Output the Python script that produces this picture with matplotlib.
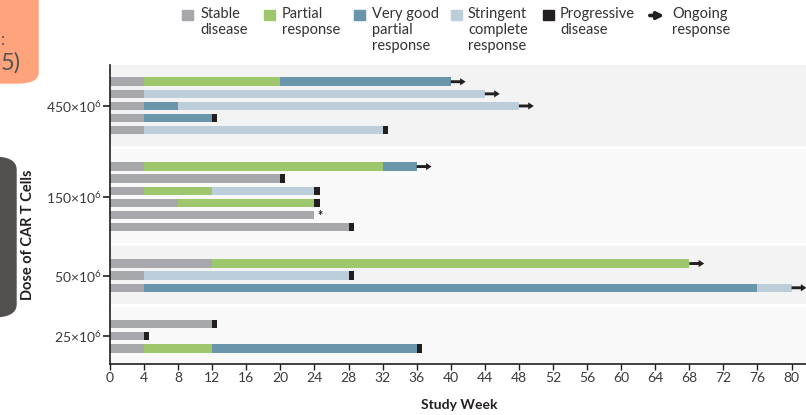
import matplotlib
matplotlib.use("Agg")
import matplotlib.pyplot as plt
from matplotlib.patches import Rectangle, FancyBboxPatch, FancyArrowPatch

plt.rcParams['font.family'] = ['Lato', 'DejaVu Sans']
plt.rcParams['mathtext.fontset'] = 'custom'
plt.rcParams['mathtext.rm'] = 'Lato'
plt.rcParams['mathtext.it'] = 'Lato:italic'
plt.rcParams['mathtext.bf'] = 'Lato:bold'

# ---- data ----
dose_labels = ['450×10$^{6}$', '150×10$^{6}$', '50×10$^{6}$', '25×10$^{6}$']
dose_counts = [5, 6, 3, 3]

# response segments per patient: (response, start week, end week)
segments = [
    # 450 x 10^6
    [('SD', 0, 4), ('PR', 4, 20), ('VGPR', 20, 40)],
    [('SD', 0, 4), ('sCR', 4, 44)],
    [('SD', 0, 4), ('VGPR', 4, 8), ('sCR', 8, 48)],
    [('SD', 0, 4), ('VGPR', 4, 12)],
    [('SD', 0, 4), ('sCR', 4, 32)],
    # 150 x 10^6
    [('SD', 0, 4), ('PR', 4, 32), ('VGPR', 32, 36)],
    [('SD', 0, 20)],
    [('SD', 0, 4), ('PR', 4, 12), ('sCR', 12, 24)],
    [('SD', 0, 8), ('PR', 8, 24)],
    [('SD', 0, 24)],
    [('SD', 0, 28)],
    # 50 x 10^6
    [('SD', 0, 12), ('PR', 12, 68)],
    [('SD', 0, 4), ('sCR', 4, 28)],
    [('SD', 0, 4), ('VGPR', 4, 76), ('sCR', 76, 80)],
    # 25 x 10^6
    [('SD', 0, 12)],
    [('SD', 0, 4)],
    [('SD', 0, 4), ('PR', 4, 12), ('VGPR', 12, 36)],
]
# what happens at the end of each bar
outcomes = ['ongoing', 'ongoing', 'ongoing', 'pd', 'pd',
            'ongoing', 'pd', 'pd', 'pd', 'star', 'pd',
            'ongoing', 'pd', 'ongoing',
            'pd', 'pd', 'pd']

week_ticks = list(range(0, 81, 4))

colors = {'SD': '#a7a8ab', 'PR': '#9dc66d', 'VGPR': '#6a96ac',
          'sCR': '#bdcedb', 'PD': '#231f20'}
legend_items = [('SD', 'Stable\ndisease'), ('PR', 'Partial\nresponse'),
                ('VGPR', 'Very good\npartial\nresponse'),
                ('sCR', 'Stringent\ncomplete\nresponse'),
                ('PD', 'Progressive\ndisease')]

W, H = 806, 415
fig = plt.figure(figsize=(W / 100, H / 100), dpi=100)


def fx(px):
    return px / W


def fy(py):
    return 1 - py / H


ax = fig.add_axes([fx(110), fy(364), fx(806) - fx(110), fy(65) - fy(364)])

# row positions: groups separated by two empty rows
rows = []
group_rows = []
r = 0
for n in dose_counts:
    group_rows.append(list(range(r, r + n)))
    rows += list(range(r, r + n))
    r += n + 2

# background bands (thin white gap between groups)
band_cols = ['#f3f3f3', '#f9f9f9']
for i, g in enumerate(group_rows):
    ax.axhspan(g[0] - 1.45, g[-1] + 1.3, color=band_cols[i % 2], lw=0, zorder=0)

bh = 0.7
for y, segs, out in zip(rows, segments, outcomes):
    for resp, s, e in segs:
        ax.barh(y, e - s, left=s, height=bh, color=colors[resp], lw=0, zorder=2)
    end = segs[-1][2]
    if out == 'pd':
        ax.barh(y, 0.6, left=end, height=bh, color=colors['PD'], lw=0, zorder=3)
    elif out == 'ongoing':
        ax.arrow(end, y, 1.75, 0, width=0.24, head_width=0.6, head_length=0.65,
                 length_includes_head=True, color='#231f20', lw=0, zorder=3,
                 clip_on=True)
    elif out == 'star':
        ax.text(end + 0.3, y + 0.05, '*', ha='left', va='center', fontsize=9,
                fontweight='bold', color='#231f20', zorder=3)

ax.set_xlim(0, 81.7)
ax.set_ylim(rows[-1] + 1.29, -1.38)
ax.set_xticks(week_ticks)
ax.set_yticks([sum(g) / len(g) for g in group_rows])
ax.set_yticklabels(dose_labels)
ax.tick_params(axis='x', length=4, width=1, color='#231f20', labelsize=10,
               labelcolor='#3a3a3a', pad=2)
ax.tick_params(axis='y', length=5, width=1.2, color='#231f20', labelsize=10,
               labelcolor='#3a3a3a', pad=1)
for side in ['top', 'right']:
    ax.spines[side].set_visible(False)
for side in ['left', 'bottom']:
    ax.spines[side].set_linewidth(1.2)
    ax.spines[side].set_color('#231f20')

fig.text(fx(459), fy(405), 'Study Week', ha='center', va='center',
         fontsize=10, fontweight='bold', color='#231f20')
fig.text(fx(27.5), fy(235), 'Dose of CAR T Cells', ha='center', va='center',
         rotation=90, fontsize=10.5, fontweight='bold', color='#231f20')

# legend drawn by hand
sq_x = [181.7, 264, 354, 451, 542.7]
tx_x = [200.7, 281.7, 371.7, 468, 560]
for (key, label), sx, tx in zip(legend_items, sq_x, tx_x):
    fig.patches.append(Rectangle((fx(sx), fy(20.5)), fx(11), fy(10) - fy(20.5),
                                 transform=fig.transFigure, color=colors[key]))
    fig.text(fx(tx), fy(7), label, ha='left', va='top', fontsize=10.5,
             linespacing=1.2, color='#333333')
fig.add_artist(FancyArrowPatch((fx(647), fy(15.5)), (fx(667), fy(15.5)),
                               transform=fig.transFigure, arrowstyle='-|>',
                               mutation_scale=10, lw=2.6, color='#231f20'))
fig.text(fx(672), fy(7), 'Ongoing\nresponse', ha='left', va='top', fontsize=10.5,
         linespacing=1.2, color='#333333')

# cropped slide decorations at the left edge
fig.patches.append(FancyBboxPatch((fx(-30), fy(83)), fx(68), fy(-30) - fy(83),
                                  boxstyle='round,pad=0,rounding_size=0.025',
                                  transform=fig.transFigure, color='#fea37b',
                                  zorder=0))
fig.text(fx(1), fy(63), '5)', ha='left', va='center', fontsize=17,
         color='#555555')
fig.text(fx(0.5), fy(40), ':', ha='left', va='center', fontsize=12,
         color='#555555')
fig.patches.append(FancyBboxPatch((fx(-30), fy(317)), fx(46), fy(157) - fy(317),
                                  boxstyle='round,pad=0,rounding_size=0.03',
                                  transform=fig.transFigure, color='#524f4e',
                                  zorder=0))

fig.savefig('out.png', dpi=100)
